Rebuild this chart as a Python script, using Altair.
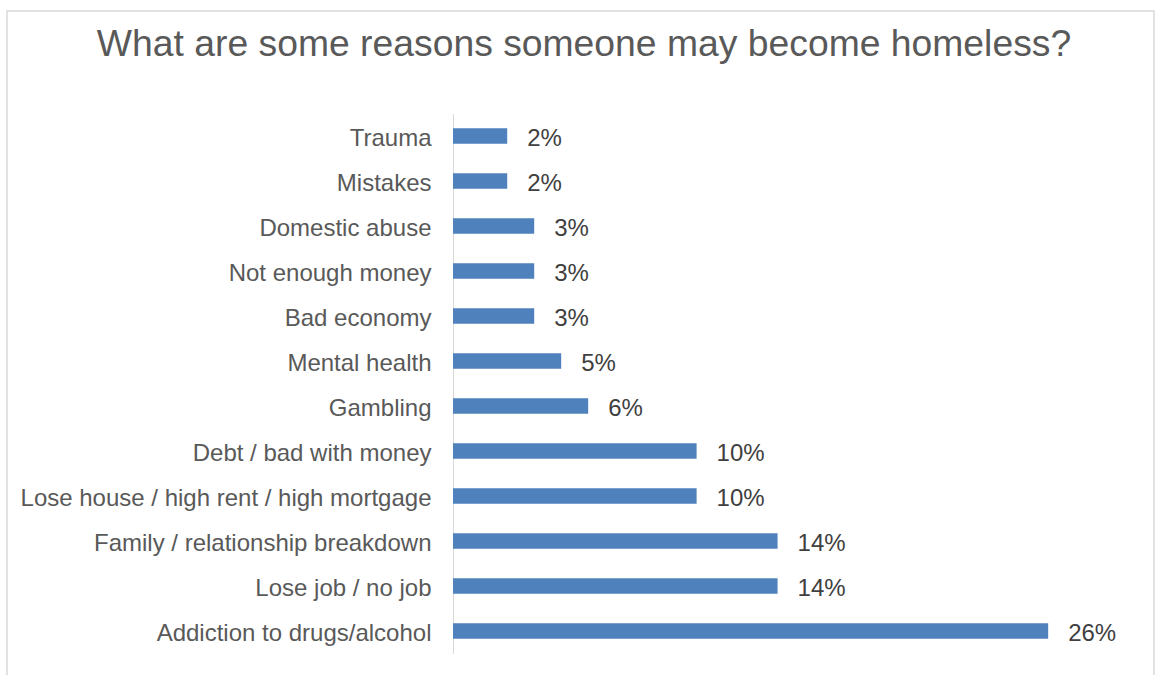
import altair as alt
import pandas as pd

reasons = [
    "Trauma", "Mistakes", "Domestic abuse", "Not enough money", "Bad economy",
    "Mental health", "Gambling", "Debt / bad with money",
    "Lose house / high rent / high mortgage", "Family / relationship breakdown",
    "Lose job / no job", "Addiction to drugs/alcohol",
]
shares = [0.0233, 0.0233, 0.0349, 0.0349, 0.0349, 0.0465, 0.0581, 0.1047,
          0.1047, 0.1395, 0.1395, 0.2558]

df = pd.DataFrame({"reason": reasons, "share": shares})

FONT = "Liberation Sans"

y = alt.Y("reason:N", sort=reasons, title=None,
          scale=alt.Scale(paddingInner=0.655, paddingOuter=0.3275),
          axis=alt.Axis(labelFontSize=24, labelColor="#595959", labelFont=FONT,
                        ticks=False, labelPadding=22, domainColor="#d9d9d9",
                        domainWidth=1, labelLimit=500, labelOffset=3))
x = alt.X("share:Q", title=None, scale=alt.Scale(domain=[0, 0.3]), axis=None)

bars = alt.Chart(df).mark_bar(color="#4F81BD").encode(x=x, y=y)
labels = alt.Chart(df).mark_text(align="left", dx=20, dy=3, fontSize=24, font=FONT,
                                 color="#404040").encode(
    x=x, y=y, text=alt.Text("share:Q", format=".0%"))

frame = alt.Chart(alt.Data(values=[{"a": 1}])).mark_rect(
    fill=None, stroke="#d9d9d9", strokeWidth=1.5).encode(
    x=alt.value(-446), x2=alt.value(701), y=alt.value(-102.5), y2=alt.value(600))

chart = alt.layer(frame, bars, labels).properties(
    width=698, height=540,
    title=alt.TitleParams("What are some reasons someone may become homeless?",
                          fontSize=37.3, font=FONT, color="#595959",
                          fontWeight="normal", anchor="middle", dx=-218,
                          baseline="alphabetic", offset=-83),
    autosize=alt.AutoSizeParams(type="none"),
    padding={"left": 453, "top": 113.5, "right": 8, "bottom": 21.5},
).configure_view(stroke=None)

chart.save("out.html", embed_options={"renderer": "svg", "actions": False})
